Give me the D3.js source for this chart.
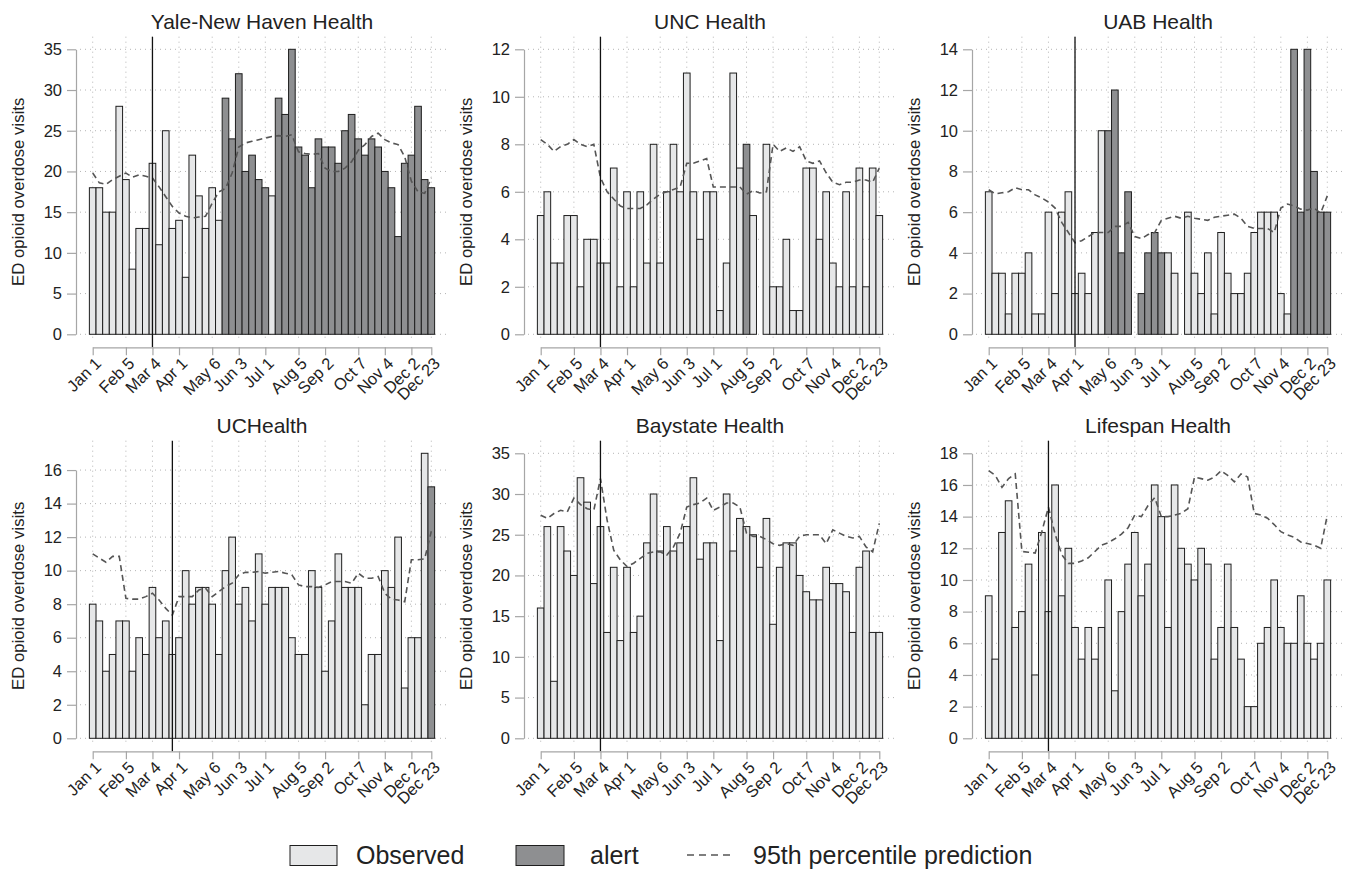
<!DOCTYPE html>
<html>
<head>
<meta charset="utf-8">
<script src="https://cdnjs.cloudflare.com/ajax/libs/d3/7.8.5/d3.min.js"></script>
<style>
body { margin: 0; background: #fff; }
svg { display: block; font-family: "Liberation Sans", Arial, Helvetica, sans-serif; }
.panel-title { font-size: 21px; fill: #222; text-anchor: middle; }
.y-title { font-size: 16.8px; fill: #222; text-anchor: middle; }
.axis text { font-size: 16.5px; fill: #222; font-family: "Liberation Sans", Arial, Helvetica, sans-serif; }
.axis path, .axis line { stroke: #a6a6a6; stroke-width: 1.2; }
.grid { stroke: #b4b4b4; stroke-width: 1; stroke-dasharray: 1 4; }
.bar { stroke: #1e1e1e; stroke-width: 1; }
.bar.observed { fill: #e6e7e8; }
.bar.alert { fill: #8e8f91; }
.prediction { fill: none; stroke: #555; stroke-width: 1.6; stroke-dasharray: 6 4; }
.marker { stroke: #111; stroke-width: 1.3; }
.legend-text { font-size: 25px; fill: #222; }
</style>
</head>
<body>
<div id="content"></div>
<script>
// weeks 0..51, Monday-start weeks of the year
const WEEK_TICKS = [0, 5, 9, 13, 18, 22, 26, 31, 35, 40, 44, 48, 51];
const WEEK_LABELS = ['Jan 1', 'Feb 5', 'Mar 4', 'Apr 1', 'May 6', 'Jun 3', 'Jul 1', 'Aug 5', 'Sep 2', 'Oct 7', 'Nov 4', 'Dec 2', 'Dec 23'];

const HOSPITALS = ['Yale-New Haven Health', 'UNC Health', 'UAB Health', 'UCHealth', 'Baystate Health', 'Lifespan Health'];
const LEGEND_LABELS = ['Observed', 'alert', '95th percentile prediction'];

const YALE_VISITS = [18, 18, 15, 15, 28, 19, 8, 13, 13, 21, 11, 25, 13, 14, 7, 22, 17, 13, 18, 14,
    29, 24, 32, 20, 22, 19, 18, 17, 29, 27, 35, 23, 22, 18, 24, 23, 23, 21, 25, 27,
    24, 22, 24, 23, 20, 18, 12, 21, 22, 28, 19, 18];
const YALE_PREDICTION = [19.8, 18.6, 18.4, 19.0, 19.4, 19.8, 19.3, 19.6, 19.4, 19.2,
    18.1, 16.9, 15.7, 14.9, 14.5, 14.3, 14.4, 14.5, 16.1, 17.5,
    17.9, 19.8, 23.0, 23.5, 23.7, 23.9, 24.1, 24.3, 24.4, 24.3,
    24.5, 22.4, 22.2, 22.1, 22.2, 20.4, 20.0, 20.0, 20.4, 21.2,
    22.6, 23.3, 24.3, 24.7, 23.9, 23.5, 23.3, 21.8, 18.8, 17.5, 17.3, 19.2];
const YALE_ALERTS = [20, 21, 22, 23, 24, 25, 26, 28, 29, 30, 31, 32, 33, 34, 35, 36, 37, 38, 39,
    40, 41, 42, 43, 44, 45, 46, 47, 48, 49, 50, 51];
const YALE_MARKER = 9;
const YALE_Y_TICKS = [0, 5, 10, 15, 20, 25, 30, 35];

const UNC_VISITS = [5, 6, 3, 3, 5, 5, 2, 4, 4, 3, 3, 7, 2, 6, 2, 6, 3, 8, 3, 6,
    8, 6, 11, 6, 4, 6, 6, 1, 3, 11, 7, 8, 5, null, 8, 2, 2, 4, 1, 1,
    7, 7, 4, 6, 3, 2, 6, 2, 7, 2, 7, 5];
const UNC_PREDICTION = [8.2, 8.0, 7.7, 7.9, 8.0, 8.2, 8.0, 7.9, 8.0, 6.6,
    6.0, 5.7, 5.4, 5.3, 5.3, 5.3, 5.45, 5.7, 5.9, 6.0,
    6.1, 6.2, 7.2, 7.2, 7.3, 7.4, 6.2, 6.2, 6.2, 6.2,
    6.2, 5.9, 6.05, 5.95, 6.0, 8.0, 7.7, 7.85, 7.7, 7.9,
    7.3, 7.2, 7.3, 6.8, 6.4, 6.3, 6.4, 6.4, 6.5, 6.5, 6.4, 7.0];
const UNC_ALERTS = [31];
const UNC_MARKER = 9;
const UNC_Y_TICKS = [0, 2, 4, 6, 8, 10, 12];

const UAB_VISITS = [7, 3, 3, 1, 3, 3, 4, 1, 1, 6, 2, 6, 7, 2, 3, 2, 5, 10, 10, 12,
    4, 7, null, 2, 4, 5, 4, 4, 3, null, 6, 3, 2, 4, 1, 5, 3, 2, 2, 3,
    5, 6, 6, 6, 2, 1, 14, 6, 14, 8, 6, 6];
const UAB_PREDICTION = [7.1, 6.9, 6.95, 7.0, 7.2, 7.1, 7.1, 6.85, 6.7, 6.5,
    6.2, 5.5, 5.0, 4.5, 4.6, 4.8, 5.0, 5.0, 5.0, 5.3,
    5.3, 5.5, 4.8, 4.7, 4.9, 5.0, 5.6, 5.7, 5.8, 5.7,
    5.8, 5.7, 5.65, 5.6, 5.75, 5.8, 5.85, 5.9, 5.7, 5.3,
    5.2, 5.2, 5.2, 5.0, 6.2, 6.4, 6.3, 6.15, 6.1, 6.2, 5.95, 6.8];
const UAB_ALERTS = [18, 19, 20, 21, 23, 24, 25, 26, 46, 47, 48, 49, 50, 51];
const UAB_MARKER = 13;
const UAB_Y_TICKS = [0, 2, 4, 6, 8, 10, 12, 14];

const UCH_VISITS = [8, 7, 4, 5, 7, 7, 4, 6, 5, 9, 6, 7, 5, 6, 10, 8, 9, 9, 8, 5,
    10, 12, 8, 9, 7, 11, 8, 9, 9, 9, 6, 5, 5, 10, 9, 4, 7, 11, 9, 9,
    9, 2, 5, 5, 10, 9, 12, 3, 6, 6, 17, 15];
const UCH_PREDICTION = [11.0, 10.75, 10.5, 10.85, 10.85, 8.35, 8.3, 8.3, 8.45, 8.65,
    8.25, 7.75, 7.35, 8.45, 8.45, 8.45, 8.85, 8.95, 8.45, 8.75,
    9.05, 9.25, 9.75, 9.9, 9.9, 9.95, 9.85, 9.9, 9.95, 9.85,
    9.75, 9.15, 9.05, 9.05, 9.0, 9.15, 9.35, 9.35, 9.35, 9.25,
    9.85, 9.55, 9.55, 9.65, 8.65, 8.3, 8.25, 8.15, 10.65, 10.65, 10.7, 12.35];
const UCH_ALERTS = [51];
const UCH_MARKER = 12;
const UCH_Y_TICKS = [0, 2, 4, 6, 8, 10, 12, 14, 16];

const BAY_VISITS = [16, 26, 7, 26, 23, 20, 32, 29, 19, 26, 13, 21, 12, 21, 13, 15, 24, 30, 23, 26,
    23, 24, 26, 32, 22, 24, 24, 12, 30, 23, 27, 26, 25, 21, 27, 14, 21, 24, 24, 20,
    18, 17, 17, 21, 19, 19, 18, 13, 21, 23, 13, 13];
const BAY_PREDICTION = [27.4, 27.0, 27.6, 28.0, 27.8, 29.5, 28.7, 28.2, 28.0, 31.9,
    26.8, 23.1, 21.9, 21.1, 21.5, 22.1, 22.7, 22.9, 22.9, 22.5,
    23.5, 25.2, 28.4, 28.7, 28.9, 29.5, 28.0, 28.4, 28.9, 28.9,
    28.4, 25.2, 24.8, 24.8, 24.4, 23.9, 23.7, 23.9, 23.7, 24.8,
    25.0, 25.0, 25.0, 23.9, 25.6, 25.2, 24.8, 24.6, 24.8, 23.5, 22.9, 26.4];
const BAY_ALERTS = [];
const BAY_MARKER = 9;
const BAY_Y_TICKS = [0, 5, 10, 15, 20, 25, 30, 35];

const LIF_VISITS = [9, 5, 13, 15, 7, 8, 11, 4, 13, 8, 16, 9, 12, 7, 5, 7, 5, 7, 10, 3,
    8, 11, 13, 9, 11, 16, 14, 7, 16, 12, 11, 10, 12, 11, 5, 7, 11, 7, 5, 2,
    2, 6, 7, 10, 7, 6, 6, 9, 6, 5, 6, 10];
const LIF_PREDICTION = [16.9, 16.6, 15.85, 16.4, 16.7, 11.8, 11.75, 11.7, 13.05, 14.6,
    12.9, 11.6, 11.05, 11.05, 11.2, 11.4, 11.8, 12.2, 12.35, 12.6,
    12.9, 13.3, 14.1, 14.0, 14.7, 15.2, 14.0, 14.0, 14.1, 14.2,
    14.5, 16.5, 16.4, 16.3, 16.5, 16.9, 16.6, 16.2, 16.7, 16.5,
    14.2, 14.1, 13.9, 13.5, 13.05, 12.85, 12.7, 12.4, 12.3, 12.2, 12.0, 14.1];
const LIF_ALERTS = [];
const LIF_MARKER = 9;
const LIF_Y_TICKS = [0, 2, 4, 6, 8, 10, 12, 14, 16, 18];

function buildPanels() {
    return [
        {visits: YALE_VISITS, prediction: YALE_PREDICTION, alerts: YALE_ALERTS, marker: YALE_MARKER, yTicks: YALE_Y_TICKS},
        {visits: UNC_VISITS, prediction: UNC_PREDICTION, alerts: UNC_ALERTS, marker: UNC_MARKER, yTicks: UNC_Y_TICKS},
        {visits: UAB_VISITS, prediction: UAB_PREDICTION, alerts: UAB_ALERTS, marker: UAB_MARKER, yTicks: UAB_Y_TICKS},
        {visits: UCH_VISITS, prediction: UCH_PREDICTION, alerts: UCH_ALERTS, marker: UCH_MARKER, yTicks: UCH_Y_TICKS},
        {visits: BAY_VISITS, prediction: BAY_PREDICTION, alerts: BAY_ALERTS, marker: BAY_MARKER, yTicks: BAY_Y_TICKS},
        {visits: LIF_VISITS, prediction: LIF_PREDICTION, alerts: LIF_ALERTS, marker: LIF_MARKER, yTicks: LIF_Y_TICKS},
    ].map(function (p, i) { p.title = HOSPITALS[i]; return p; });
}

var COL_WIDTH = 448;
var ROW_HEIGHT = 404;

// panel-local geometry
var axisX = 76;
var plotRight = 447;
var baseY = 334.3;
var topY = 49.3;
var xAxisY = 347.3;

function generatePanel(svg, panel, col, row) {
    var g = svg.append('g')
    .attr('transform', `translate(${col * COL_WIDTH}, ${row * ROW_HEIGHT})`);

    var xScale = d3.scaleLinear()
    .domain([0, panel.visits.length - 1])
    .range([92.7, 431.3]);
    var step = xScale(1) - xScale(0);

    var lastTick = panel.yTicks[panel.yTicks.length - 1];
    var yMax = Math.max(lastTick, d3.max(panel.visits), d3.max(panel.prediction));
    var yScale = d3.scaleLinear()
    .domain([0, yMax])
    .range([baseY, topY]);

    // grid
    g.selectAll('.grid-h')
    .data(panel.yTicks)
    .enter()
    .append('line')
    .attr('class', 'grid')
    .attr('x1', axisX + 4)
    .attr('x2', plotRight)
    .attr('y1', d => yScale(d))
    .attr('y2', d => yScale(d));

    g.selectAll('.grid-v')
    .data(WEEK_TICKS)
    .enter()
    .append('line')
    .attr('class', 'grid')
    .attr('x1', d => xScale(d))
    .attr('x2', d => xScale(d))
    .attr('y1', topY - 12.6)
    .attr('y2', baseY + 7);

    var weeks = panel.visits
    .map(function (v, i) { return {week: i, value: v, alert: panel.alerts.includes(i)}; })
    .filter(function (d) { return d.value !== null; });

    g.selectAll('rect')
    .data(weeks)
    .enter()
    .append('rect')
    .attr('class', d => 'bar ' + (d.alert ? 'alert' : 'observed'))
    .attr('x', d => xScale(d.week) - step / 2)
    .attr('width', step)
    .attr('y', d => yScale(d.value))
    .attr('height', d => yScale(0) - yScale(d.value));

    var line = d3.line()
    .x((d, i) => xScale(i))
    .y(d => yScale(d));

    g.append('path')
    .attr('class', 'prediction')
    .attr('d', line(panel.prediction));

    g.append('line')
    .attr('class', 'marker')
    .attr('x1', xScale(panel.marker))
    .attr('x2', xScale(panel.marker))
    .attr('y1', topY - 12.6)
    .attr('y2', xAxisY);

    // y axis stops at the last labelled tick
    var yAxisScale = d3.scaleLinear()
    .domain([0, lastTick])
    .range([yScale(0), yScale(lastTick)]);

    g.append('g')
    .attr('class', 'axis y-axis')
    .attr('transform', `translate(${axisX}, 0)`)
    .call(d3.axisLeft(yAxisScale)
        .tickValues(panel.yTicks)
        .tickSize(9)
        .tickSizeOuter(0)
        .tickPadding(5));

    var xAxis = g.append('g')
    .attr('class', 'axis x-axis')
    .attr('transform', `translate(0, ${xAxisY})`)
    .call(d3.axisBottom(xScale)
        .tickValues(WEEK_TICKS)
        .tickFormat((d, i) => WEEK_LABELS[i])
        .tickSize(8)
        .tickSizeOuter(0));

    xAxis.selectAll('text')
    .attr('x', 0)
    .attr('y', 0)
    .attr('dy', '0.35em')
    .attr('text-anchor', 'end')
    .attr('transform', 'translate(5, 13) rotate(-45)');

    g.append('text')
    .attr('class', 'panel-title')
    .attr('x', 262)
    .attr('y', 28.5)
    .text(panel.title);

    g.append('text')
    .attr('class', 'y-title')
    .attr('transform', `translate(24, ${(baseY + topY) / 2}) rotate(-90)`)
    .text('ED opioid overdose visits');
}

function generateLegend(svg) {
    var legend = svg.append('g').attr('class', 'legend');

    legend.append('rect')
    .attr('class', 'bar observed')
    .attr('x', 290).attr('y', 845.5)
    .attr('width', 47).attr('height', 20);
    legend.append('text')
    .attr('class', 'legend-text')
    .attr('x', 356).attr('y', 864)
    .text(LEGEND_LABELS[0]);

    legend.append('rect')
    .attr('class', 'bar alert')
    .attr('x', 516).attr('y', 845.5)
    .attr('width', 48).attr('height', 20);
    legend.append('text')
    .attr('class', 'legend-text')
    .attr('x', 590).attr('y', 864)
    .text(LEGEND_LABELS[1]);

    legend.append('line')
    .attr('class', 'prediction')
    .attr('x1', 687).attr('x2', 733)
    .attr('y1', 855).attr('y2', 855)
    .style('stroke-dasharray', '7 5');
    legend.append('text')
    .attr('class', 'legend-text')
    .attr('x', 753).attr('y', 864)
    .text(LEGEND_LABELS[2]);
}

function main() {
    var svg = d3.select('#content')
    .append('svg')
    .attr('width', 1346)
    .attr('height', 870);

    buildPanels().forEach(function (panel, i) {
        generatePanel(svg, panel, i % 3, Math.floor(i / 3));
    });

    generateLegend(svg);
}

main();
</script>
</body>
</html>
